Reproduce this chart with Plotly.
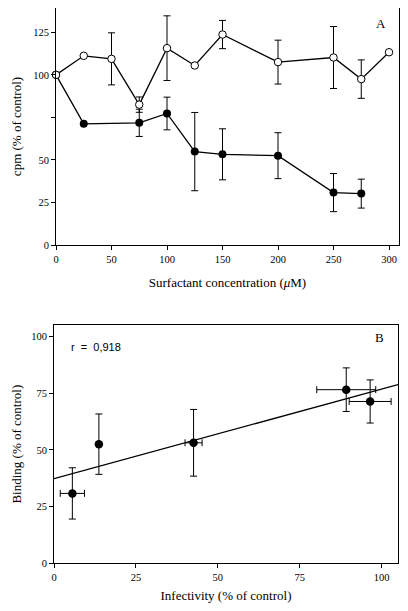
import numpy as np
import plotly.graph_objects as go

# ---------- Panel A data ----------
conc_open = [0, 25, 50, 75, 100, 125, 150, 200, 250, 275, 300]
cpm_open = [100, 111.2, 109.4, 82.5, 115.7, 105.5, 123.7, 107.5, 110.2, 97.5, 113.3]
err_open = [0, 0, 15.3, 4.5, 19.0, 0, 8.3, 12.9, 18.2, 11.3, 0]

conc_filled = [0, 25, 75, 100, 125, 150, 200, 250, 275]
cpm_filled = [100, 71.2, 71.8, 77.3, 54.9, 53.3, 52.5, 30.8, 30.2]
err_filled = [0, 0, 8.0, 9.6, 23.0, 15.0, 13.5, 11.2, 8.5]

# ---------- Panel B data ----------
infectivity = [5.6, 13.7, 42.6, 89.2, 96.5]
infect_err = [3.7, 0, 2.6, 9.0, 6.4]
binding = [30.8, 52.5, 53.1, 76.5, 71.3]
binding_err = [11.3, 13.3, 14.7, 9.6, 9.5]
r_text = "r  =  0,918"

slope, intercept = np.polyfit(infectivity, binding, 1)
fit_x = [0, 105]
fit_y = [intercept + slope * v for v in fit_x]

# The page body has an 8px margin, so the figure is sized to fit the window
W, H, OFF = 392, 595, 8


def px(p):
    return (p - OFF) / W


def py(p):
    return 1 - (p - OFF) / H


serif = "Liberation Serif"
fig = go.Figure()

eb = dict(type="data", color="black", thickness=1, width=3.5)

fig.add_trace(go.Scatter(
    x=conc_filled, y=cpm_filled, mode="lines+markers",
    line=dict(color="black", width=1.3),
    marker=dict(symbol="circle", size=8, color="black"),
    error_y=dict(array=err_filled, **eb),
    xaxis="x", yaxis="y", showlegend=False, cliponaxis=False))
fig.add_trace(go.Scatter(
    x=conc_open, y=cpm_open, mode="lines+markers",
    line=dict(color="black", width=1.3),
    marker=dict(symbol="circle", size=7.5, color="white",
                line=dict(color="black", width=1)),
    error_y=dict(array=err_open, **eb),
    xaxis="x", yaxis="y", showlegend=False, cliponaxis=False))

fig.add_trace(go.Scatter(
    x=fit_x, y=fit_y, mode="lines", line=dict(color="black", width=1.3),
    xaxis="x2", yaxis="y2", showlegend=False))
fig.add_trace(go.Scatter(
    x=infectivity, y=binding, mode="markers",
    marker=dict(symbol="circle", size=8.5, color="black"),
    error_y=dict(array=binding_err, **eb),
    error_x=dict(array=infect_err, **eb),
    xaxis="x2", yaxis="y2", showlegend=False))

axis_common = dict(showline=True, linecolor="black", linewidth=1, mirror=True,
                   ticks="outside", ticklen=4, tickcolor="black", tickwidth=1,
                   showgrid=False, zeroline=False, automargin=False,
                   tickfont=dict(family=serif, size=10.5, color="black"))
title_font = dict(family=serif, size=13, color="black")

fig.update_layout(
    width=W, height=H,
    margin=dict(l=0, r=0, t=0, b=0),
    paper_bgcolor="white", plot_bgcolor="white",
    xaxis=dict(domain=[px(56), px(399)], range=[0, 309],
               tickvals=[0, 50, 100, 150, 200, 250, 300],
               title=dict(text="Surfactant concentration (<i>μ</i>M)",
                          font=title_font, standoff=14),
               anchor="y", **axis_common),
    yaxis=dict(domain=[py(245), 1.0], range=[0, 139.3],
               tickvals=[0, 25, 50, 75, 100, 125],
               ticktext=["0", "25", "50", "", "100", "125"],
               title=dict(text="cpm (% of control)", font=title_font, standoff=8),
               anchor="x", **axis_common),
    xaxis2=dict(domain=[px(54), px(398)], range=[0, 105],
                tickvals=[0, 25, 50, 75, 100],
                title=dict(text="Infectivity (% of control)",
                           font=title_font, standoff=14),
                anchor="y2", **axis_common),
    yaxis2=dict(domain=[py(563.3), py(325)], range=[0, 105],
                tickvals=[0, 25, 50, 75, 100],
                title=dict(text="Binding (% of control)", font=title_font, standoff=6),
                anchor="x2", **axis_common),
    annotations=[
        dict(text="A", x=px(381), y=py(23), xref="paper", yref="paper",
             xanchor="center", yanchor="middle",
             showarrow=False, font=dict(family=serif, size=13, color="black")),
        dict(text="B", x=px(379), y=py(337), xref="paper", yref="paper",
             xanchor="center", yanchor="middle",
             showarrow=False, font=dict(family=serif, size=13, color="black")),
        dict(text=r_text, x=px(69), y=py(347), xref="paper", yref="paper",
             xanchor="left", yanchor="middle", showarrow=False,
             font=dict(family="Liberation Sans", size=11, color="black")),
    ],
)

fig.write_html("out.html")
